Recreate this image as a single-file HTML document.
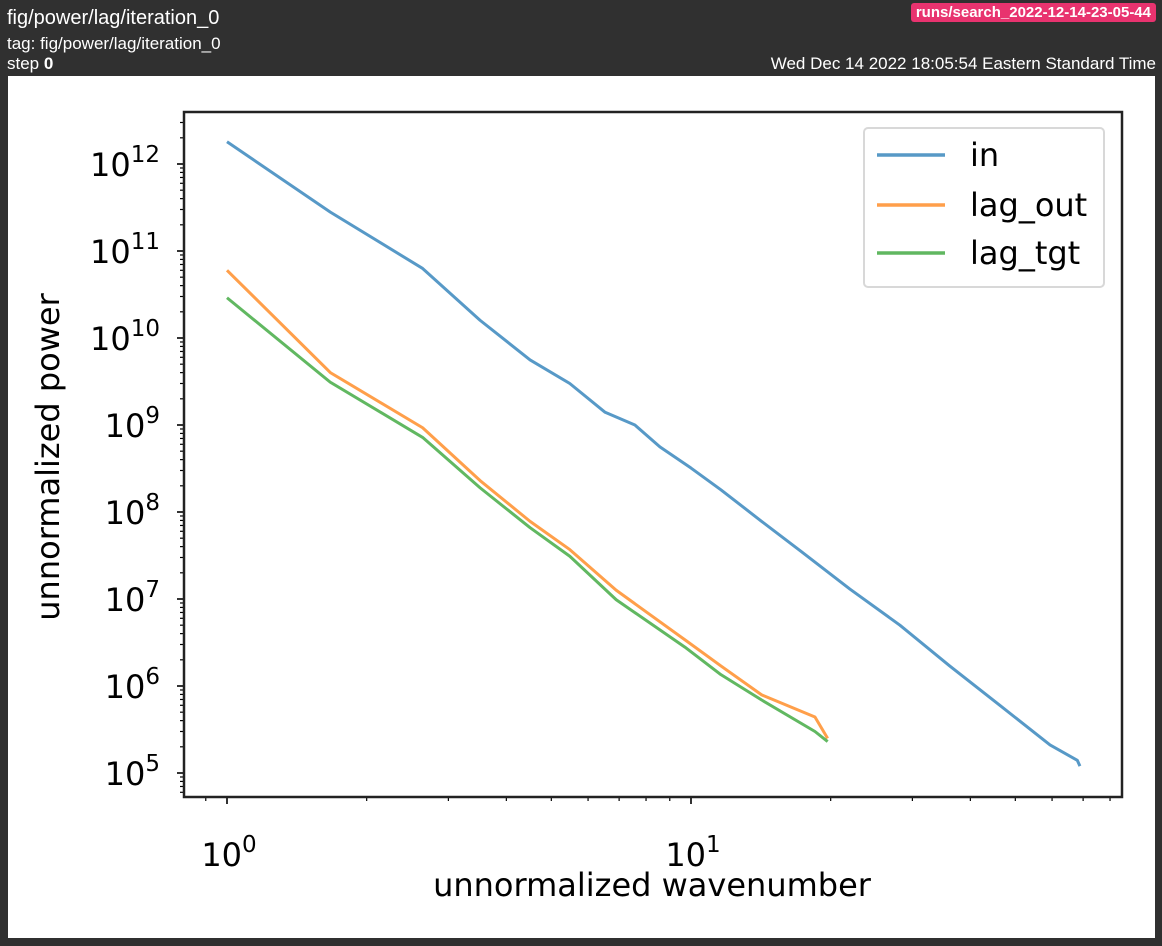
<!DOCTYPE html>
<html><head><meta charset="utf-8"><style>
body{margin:0;width:1162px;height:946px;background:#303030;overflow:hidden;font-family:"Liberation Sans",sans-serif;position:relative}
.h{position:absolute;color:#fff;white-space:nowrap}
#panel{position:absolute;left:8px;top:76px;width:1147px;height:862px;background:#fff}
svg{position:absolute;left:0;top:0}
</style></head><body>
<div class="h" style="left:7px;top:7px;font-size:20px">fig/power/lag/iteration_0</div>
<div class="h" style="left:7px;top:34px;font-size:17px">tag: fig/power/lag/iteration_0</div>
<div class="h" style="left:7px;top:54px;font-size:17px">step <b>0</b></div>
<div class="h" style="right:6px;top:3px;font-size:15px;font-weight:bold;background:#e8336f;border-radius:3px;padding:0 5px;line-height:19px">runs/search_2022-12-14-23-05-44</div>
<div class="h" style="right:6px;top:54px;font-size:17px">Wed Dec 14 2022 18:05:54 Eastern Standard Time</div>
<div id="panel"></div>
<svg id="c" width="1162" height="946" font-family="DejaVu Sans, sans-serif"></svg>
<script>
const inK=[1,1.67,2.64,3.51,4.5,5.48,6.53,7.57,8.57,10,11.6,14.2,17.3,22,28.2,36.1,46.3,59.4,68,68.9];
const inP=[1.8e12,2.8e11,6.3e10,1.6e10,5.6e9,3.0e9,1.4e9,1.0e9,5.6e8,3.2e8,1.8e8,7.8e7,3.5e7,1.3e7,5e6,1.7e6,6e5,2.1e5,1.4e5,1.2e5];
const lagK=[1,1.67,2.64,3.51,4.5,5.48,6.9,9.7,11.6,14.2,18.5,19.7];
const outP=[6e10,4e9,9.3e8,2.3e8,7.8e7,3.7e7,1.26e7,3.4e6,1.7e6,7.9e5,4.4e5,2.5e5];
const tgtP=[2.9e10,3.1e9,7.2e8,1.9e8,6.6e7,3.1e7,9.8e6,2.8e6,1.35e6,6.9e5,3e5,2.3e5];
const yDecades=[5,6,7,8,9,10,11,12];
const xDecades=[0,1];
const L=184,R=1122,T=112,B=797;
const X=v=>227+464*Math.log10(v);
const Y=v=>773-87*(Math.log10(v)-5);
const s=document.getElementById('c');const NS='http://www.w3.org/2000/svg';
function mk(t,a,p){const e=document.createElementNS(NS,t);for(const k in a)e.setAttribute(k,a[k]);(p||s).appendChild(e);return e;}
for(let d=4;d<=12;d++)for(let m=1;m<10;m++){const v=m*Math.pow(10,d),y=Y(v);if(y<T||y>B)continue;
 const t=mk('line',{x1:L,x2:L-(m==1?7:4),y1:y,y2:y,stroke:'#000','stroke-width':m==1?1.6:1.2});
 }
for(let d=-1;d<=1;d++)for(let m=1;m<10;m++){const v=m*Math.pow(10,d),x=X(v);if(x<L||x>R)continue;
 const t=mk('line',{x1:x,x2:x,y1:B,y2:B+(m==1?7:4),stroke:'#000','stroke-width':m==1?1.6:1.2});
 }
yDecades.forEach(d=>{const t=mk('text',{x:160,y:Y(Math.pow(10,d))+12,'text-anchor':'end','font-size':32});
 
 t.innerHTML='10<tspan dy="-14" font-size="23">'+d+'</tspan>';});
xDecades.forEach(d=>{const t=mk('text',{x:X(Math.pow(10,d))+2,y:866,'text-anchor':'middle','font-size':32});
 
 t.innerHTML='10<tspan dy="-14" font-size="23">'+d+'</tspan>';});
function line(K,P,c,n){const p=mk('polyline',{points:K.map((k,i)=>X(k)+','+Y(P[i])).join(' '),fill:'none',stroke:c,'stroke-width':3,opacity:0.75,'stroke-linejoin':'round'});
 }
line(inK,inP,'#1f77b4','series-in');
line(lagK,outP,'#ff7f0e','series-lag-out');
line(lagK,tgtP,'#2ca02c','series-lag-tgt');
const fr=mk('rect',{x:L,y:T,width:R-L,height:B-T,fill:'none',stroke:'#222','stroke-width':2.5});

const lg=mk('g',{});
mk('rect',{x:864,y:128,width:240,height:159,rx:4,fill:'#fff',stroke:'#d8d8d8','stroke-width':2},lg);
[['in','#1f77b4',155],['lag_out','#ff7f0e',205],['lag_tgt','#2ca02c',253]].forEach(([n,c,y])=>{
 const e=mk('g',{},lg);
 mk('line',{x1:877,x2:945,y1:y,y2:y,stroke:c,'stroke-width':3.5,opacity:0.75},e);
 const t=mk('text',{x:970,y:y+11,'font-size':32},e);t.textContent=n;});
const xl=mk('text',{x:652,y:896,'text-anchor':'middle','font-size':32});xl.textContent='unnormalized wavenumber';

const yl=mk('text',{x:0,y:0,'text-anchor':'middle','font-size':32,transform:'translate(59,457) rotate(-90)'});yl.textContent='unnormalized power';

</script>
</body></html>
